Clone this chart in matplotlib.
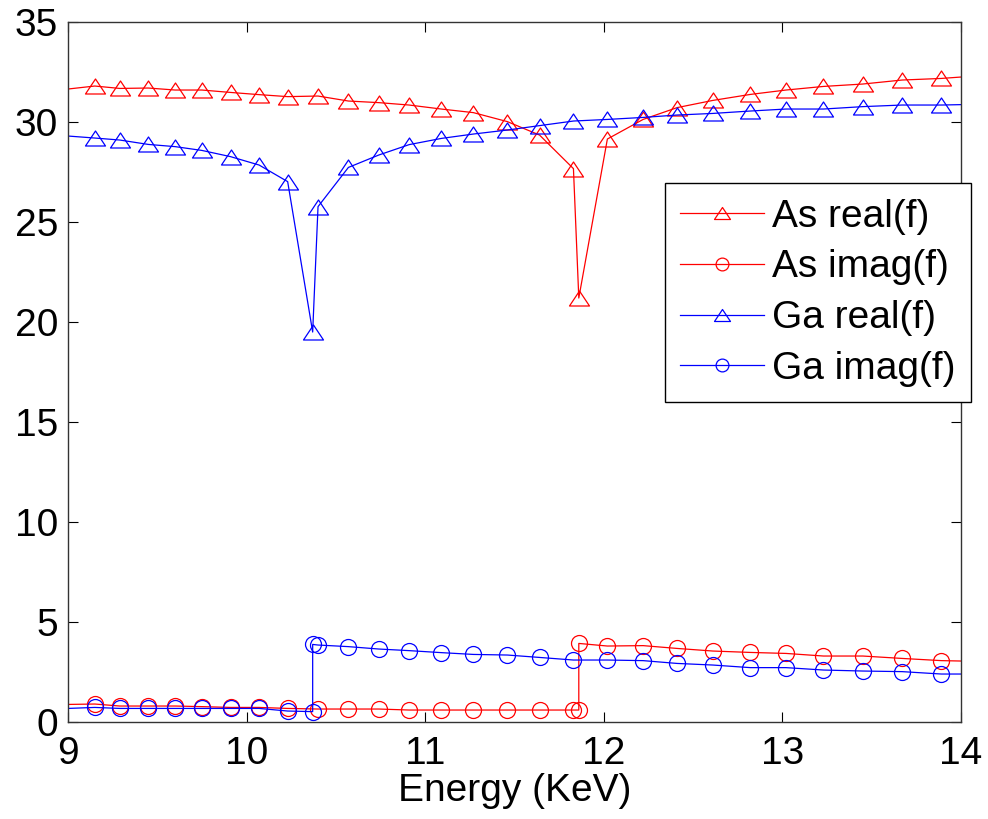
import matplotlib
matplotlib.use('Agg')
import matplotlib.pyplot as plt
from matplotlib.path import Path

plt.rcParams['font.family'] = ['Liberation Sans', 'DejaVu Sans']
plt.rcParams['font.size'] = 28
plt.rcParams['xtick.direction'] = 'in'
plt.rcParams['ytick.direction'] = 'in'
plt.rcParams['xtick.top'] = True
plt.rcParams['ytick.right'] = True

# common energy grid (KeV) where markers sit
grid = [9.15, 9.29, 9.45, 9.60, 9.75, 9.91, 10.07, 10.23, 10.40, 10.57,
        10.74, 10.91, 11.09, 11.27, 11.46, 11.64, 11.83, 12.02, 12.22, 12.41,
        12.61, 12.82, 13.02, 13.23, 13.45, 13.67, 13.89]
as_edge = 11.86
ga_edge = 10.37

as_real_x = [9.0] + grid[:17] + [as_edge] + grid[17:] + [14.0]
as_real = [31.65,
           31.8, 31.68, 31.7, 31.6, 31.6, 31.48, 31.37, 31.27, 31.3, 31.05,
           30.97, 30.85, 30.65, 30.47, 30.02, 29.35, 27.67,
           21.2,
           29.15, 30.13, 30.72, 31.08, 31.38, 31.6, 31.78, 31.9, 32.1, 32.18,
           32.25]

as_imag_x = [9.0] + grid[:17] + [as_edge, as_edge] + grid[17:] + [14.0]
as_imag = [0.88,
           0.9, 0.8, 0.8, 0.8, 0.77, 0.73, 0.73, 0.68,
           0.65, 0.65, 0.65, 0.6, 0.6, 0.6, 0.6, 0.6, 0.6,
           0.6, 3.93,
           3.8, 3.82, 3.68, 3.55, 3.48, 3.43, 3.3, 3.3, 3.18, 3.07,
           3.05]

ga_real_x = [9.0] + grid[:8] + [ga_edge] + grid[8:] + [14.0]
ga_real = [29.3,
           29.2, 29.1, 28.88, 28.77, 28.58, 28.27, 27.85, 27.02,
           19.5,
           25.77, 27.73, 28.35, 28.87, 29.18, 29.4, 29.6,
           29.82, 30.05, 30.13, 30.23, 30.35, 30.43, 30.55, 30.65, 30.65,
           30.77, 30.85, 30.85,
           30.87]

ga_imag_x = [9.0] + grid[:8] + [ga_edge, ga_edge] + grid[8:] + [14.0]
ga_imag = [0.68,
           0.73, 0.68, 0.68, 0.68, 0.68, 0.68, 0.68, 0.55,
           0.52, 3.88,
           3.85, 3.77, 3.65, 3.57, 3.47, 3.38, 3.35,
           3.23, 3.1, 3.1, 3.07, 2.93, 2.85, 2.72, 2.72, 2.6, 2.55, 2.52, 2.4,
           2.4]

# matlab style triangle: wider than tall
tri = Path([(0, 0.75), (-1, -0.75), (1, -0.75), (0, 0.75)],
           [Path.MOVETO, Path.LINETO, Path.LINETO, Path.CLOSEPOLY])

fig = plt.figure(figsize=(9.88, 8.19), dpi=100)
ax = fig.add_axes([0.0688, 0.1184, 0.9039, 0.8547])


def draw(x, y, color, marker, label):
    ms = 14.4 if marker is tri else 11.5
    ax.plot(x, y, color=color, lw=0.9, marker=marker, ms=ms,
            mfc='none', mec=color, mew=0.9,
            markevery=list(range(1, len(x) - 1)), label=label)


draw(as_real_x, as_real, 'red', tri, 'As real(f)')
draw(as_imag_x, as_imag, 'red', 'o', 'As imag(f)')
draw(ga_real_x, ga_real, 'blue', tri, 'Ga real(f)')
draw(ga_imag_x, ga_imag, 'blue', 'o', 'Ga imag(f)')

ax.set_xlim(9, 14)
ax.set_ylim(0, 35)
ax.set_xticks(range(9, 15))
ax.set_yticks(range(0, 36, 5))
ax.tick_params(axis='x', length=7, width=0.8, pad=10)
ax.tick_params(axis='y', length=7, width=0.8, pad=7)
for s in ax.spines.values():
    s.set_linewidth(1.0)
    s.set_color('#333333')

ax.set_xlabel('Energy (KeV)', labelpad=1)

leg = ax.legend(loc='upper left', bbox_to_anchor=(0.668, 0.77),
                borderaxespad=0, fancybox=False, edgecolor='black',
                framealpha=1, handlelength=2.16, handletextpad=0.2,
                labelspacing=0.38, borderpad=0.4, markerscale=0.8)
leg.get_frame().set_linewidth(1.0)
leg.set_clip_on(False)

fig.savefig('out.png', dpi=100)
